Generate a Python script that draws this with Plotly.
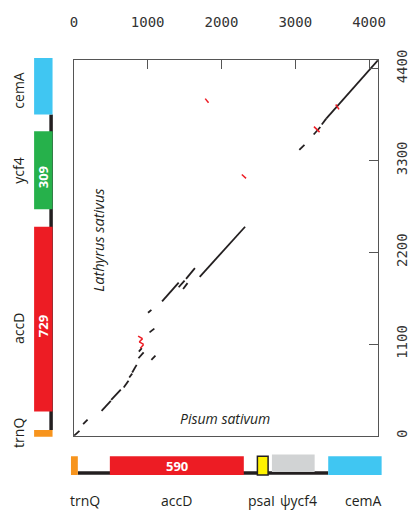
import plotly.graph_objects as go

# ---------------- data ----------------
# dot-plot match segments (Pisum x, Lathyrus y): x0, y0, x1, y1
fwd_x0 = [0, 125, 375, 505, 675, 750, 790, 875, 880, 1005, 1025, 1050, 1195, 1420, 1480, 1520, 1705, 3055, 3250, 3360, 3420]
fwd_y0 = [0, 140, 300, 430, 580, 700, 760, 930, 1010, 1475, 1240, 910, 1610, 1780, 1760, 1880, 1905, 3425, 3610, 3730, 3800]
fwd_x1 = [75, 185, 500, 635, 740, 790, 850, 945, 920, 1050, 1090, 1105, 1420, 1500, 1540, 1640, 2320, 3125, 3340, 3420, 4120]
fwd_y1 = [60, 195, 420, 555, 660, 745, 850, 1000, 1050, 1510, 1285, 960, 1835, 1860, 1830, 2010, 2505, 3485, 3700, 3800, 4500]

rev_x0 = [870, 930, 885, 945, 1780, 2276, 3254, 3549]
rev_y0 = [1195, 1165, 1125, 1095, 4040, 3132, 3705, 3970]
rev_x1 = [930, 885, 945, 900, 1825, 2333, 3330, 3593]
rev_y1 = [1165, 1125, 1095, 1050, 3990, 3085, 3639, 3911]

# gene maps
pisum_genes = ["trnQ", "accD", "psaI", "ψycf4", "cemA"]
pisum_start = [-40, 487, 2487, 2684, 3447]
pisum_end = [53, 2303, 2632, 3263, 4171]
pisum_label_x = [150, 1390, 2540, 3040, 3930]
pisum_backbone = [53, 3447]

lathyrus_genes = ["trnQ", "accD", "ycf4", "cemA"]
lathyrus_start = [-12, 292, 2714, 3849]
lathyrus_end = [70, 2504, 3650, 4528]
lathyrus_label_y = [30, 1287, 3171, 4142]
lathyrus_backbone = [70, 3849]

pisum_inner = {"accD": "590"}
lathyrus_inner = {"accD": "729", "ycf4": "309"}

x_ticks = [0, 1000, 2000, 3000, 4000]
y_ticks = [0, 1100, 2200, 3300, 4400]
x_range = [0, 4120]
y_range = [0, 4505]

# ---------------- styles ----------------
W, H = 415, 516
gene_colors = {"trnQ": "#F7941D", "accD": "#ED1C24", "psaI": "#FFF200",
               "ψycf4": "#D1D3D4", "ycf4": "#26B14B", "cemA": "#40C6F2"}
LINE = "#231F20"
AX = "#555555"
FONT = "Open Sans"

# plot area in pixels
PL, PR, PT, PB = 72, 385, 51, 436
xs = (x_range[1] - x_range[0]) / (PR - PL)
ys = (y_range[1] - y_range[0]) / (PB - PT)
EX = 12  # px extension of helper axes (same scale)


def seg_xy(x0, y0, x1, y1):
    xx, yy = [], []
    for a, b, c, d in zip(x0, y0, x1, y1):
        xx += [a, c, None]
        yy += [b, d, None]
    return xx, yy


def py(p):
    return 1 - p / H


def px(p):
    return p / W


fig = go.Figure()
# dummy trace to activate helper axes (drawn first, underneath)
fig.add_trace(go.Scatter(x=[None], y=[None], xaxis="x2", yaxis="y2", showlegend=False))
bx, by = seg_xy(fwd_x0, fwd_y0, fwd_x1, fwd_y1)
fig.add_trace(go.Scatter(x=bx, y=by, mode="lines", line=dict(color=LINE, width=1.8),
                         hoverinfo="skip", showlegend=False))
rx, ry = seg_xy(rev_x0, rev_y0, rev_x1, rev_y1)
fig.add_trace(go.Scatter(x=rx, y=ry, mode="lines", line=dict(color="#ED1C24", width=1.5),
                         hoverinfo="skip", showlegend=False))

shapes = []
annotations = []


def ann(**kw):
    d = dict(showarrow=False, xanchor="center", yanchor="middle")
    d.update(kw)
    annotations.append(d)


# bottom gene map (Pisum)
shapes.append(dict(type="line", xref="x2", yref="paper", x0=pisum_backbone[0], x1=pisum_backbone[1],
                   y0=py(474), y1=py(474), line=dict(color=LINE, width=3.5), layer="below"))
for g, s, e in zip(pisum_genes, pisum_start, pisum_end):
    top, bot = 457, 476
    if g == "ψycf4":
        top, bot = 455, 473
    lw = 1.5 if g == "psaI" else 0
    shapes.append(dict(type="rect", xref="x2", yref="paper", x0=s, x1=e, y0=py(bot), y1=py(top),
                       fillcolor=gene_colors[g], line=dict(color=LINE, width=lw)))
for g, lx in zip(pisum_genes, pisum_label_x):
    ann(xref="x2", yref="paper", x=lx, y=py(502), text=g, font=dict(family=FONT, size=14, color=LINE))
for g, s, e in zip(pisum_genes, pisum_start, pisum_end):
    if g in pisum_inner:
        ann(xref="x2", yref="paper", x=(s + e) / 2, y=py(467), text="<b>%s</b>" % pisum_inner[g],
            font=dict(family=FONT, size=13, color="white"))

# left gene map (Lathyrus)
shapes.append(dict(type="line", xref="paper", yref="y2", x0=px(48.5), x1=px(48.5),
                   y0=lathyrus_backbone[0], y1=lathyrus_backbone[1], line=dict(color=LINE, width=3.5), layer="below"))
for g, s, e in zip(lathyrus_genes, lathyrus_start, lathyrus_end):
    shapes.append(dict(type="rect", xref="paper", yref="y2", x0=px(31), x1=px(50), y0=s, y1=e,
                       fillcolor=gene_colors[g], line=dict(width=0)))
for g, ly in zip(lathyrus_genes, lathyrus_label_y):
    ann(xref="paper", yref="y2", x=px(15), y=ly, text=g, textangle=-90, font=dict(family=FONT, size=14, color=LINE))
for g, s, e in zip(lathyrus_genes, lathyrus_start, lathyrus_end):
    if g in lathyrus_inner:
        ann(xref="paper", yref="y2", x=px(40.5), y=(s + e) / 2 - 80, text="<b>%s</b>" % lathyrus_inner[g],
            textangle=-90, font=dict(family=FONT, size=13, color="white"))

# species labels
ann(xref="paper", yref="paper", x=px(97), y=py(236), text="<i>Lathyrus sativus</i>", textangle=-90,
    font=dict(family=FONT, size=14.5, color=LINE))
ann(xref="paper", yref="paper", x=px(228), y=py(418), text="<i>Pisum sativum</i>",
    font=dict(family=FONT, size=14, color=LINE))

tickfont = dict(family="DejaVu Sans Mono", size=14, color="#333333")
fig.update_layout(
    width=W, height=H, autosize=False,
    margin=dict(l=0, r=0, t=0, b=0),
    paper_bgcolor="white", plot_bgcolor="rgba(0,0,0,0)",
    shapes=shapes, annotations=annotations,
    xaxis=dict(domain=[px(PL), px(PR)], range=x_range, side="top", tickvals=x_ticks,
               ticks="inside", ticklen=9, tickcolor=AX, showline=True, linecolor=AX, linewidth=1,
               mirror=True, showgrid=False, zeroline=False, tickfont=tickfont, ticklabelstandoff=26),
    yaxis=dict(domain=[py(PB), py(PT)], range=y_range, side="right", tickvals=y_ticks, tickangle=-90,
               ticks="inside", ticklen=9, tickcolor=AX, showline=True, linecolor=AX, linewidth=1,
               mirror=True, showgrid=False, zeroline=False, tickfont=tickfont, ticklabelstandoff=11),
    xaxis2=dict(domain=[px(PL - EX), px(PR + EX)], range=[x_range[0] - EX * xs, x_range[1] + EX * xs],
                visible=False, anchor="y2", showgrid=False, zeroline=False),
    yaxis2=dict(domain=[py(PB + EX), py(PT - EX)], range=[y_range[0] - EX * ys, y_range[1] + EX * ys],
                visible=False, anchor="x2", showgrid=False, zeroline=False),
)

fig.write_html("out.html")
